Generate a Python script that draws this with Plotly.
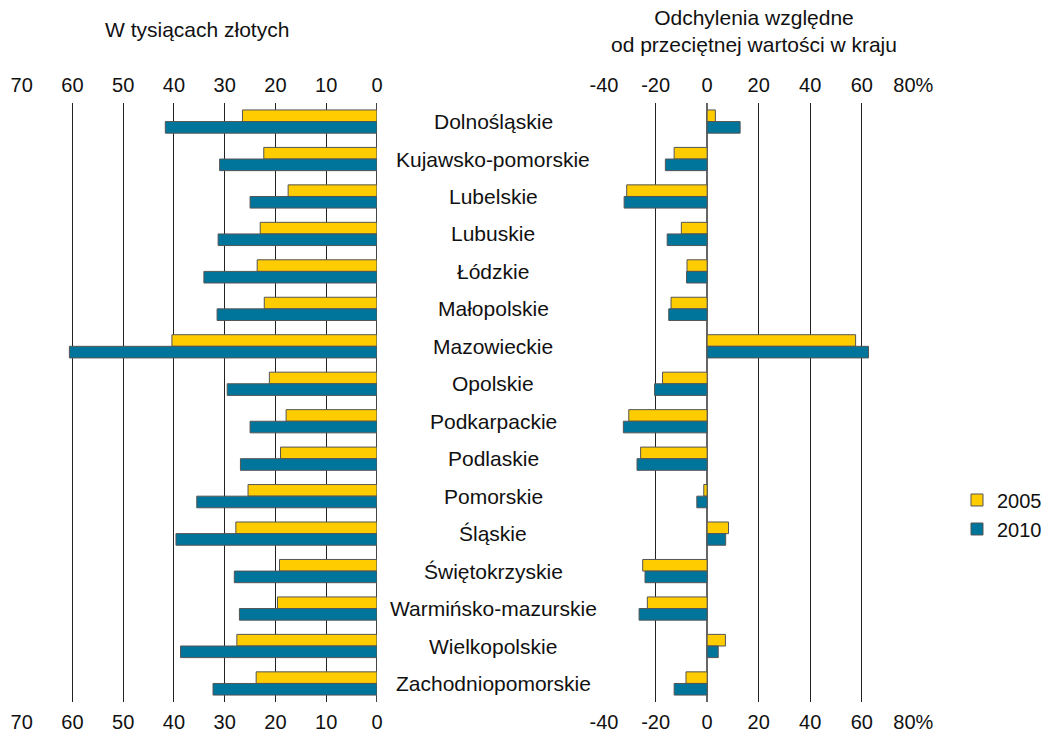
import plotly.graph_objects as go

# ── Data ──
REGIONS = [
    "Dolnośląskie", "Kujawsko-pomorskie", "Lubelskie", "Lubuskie", "Łódzkie",
    "Małopolskie", "Mazowieckie", "Opolskie", "Podkarpackie", "Podlaskie",
    "Pomorskie", "Śląskie", "Świętokrzyskie", "Warmińsko-mazurskie",
    "Wielkopolskie", "Zachodniopomorskie",
]
# W tysiącach złotych
THOUS_2005 = [26.5, 22.3, 17.5, 23.0, 23.6, 22.2, 40.4, 21.2,
              17.9, 19.0, 25.4, 27.8, 19.2, 19.6, 27.6, 23.8]
THOUS_2010 = [41.7, 31.0, 25.0, 31.3, 34.1, 31.5, 60.6, 29.5,
              25.0, 26.9, 35.5, 39.6, 28.1, 27.1, 38.7, 32.3]
# Odchylenia względne od przeciętnej wartości w kraju (%)
DEV_2005 = [3.2, -12.8, -31.2, -10.0, -7.8, -14.0, 57.6, -17.3,
            -30.4, -25.8, -1.3, 8.3, -25.0, -23.2, 7.1, -8.2]
DEV_2010 = [12.8, -16.2, -32.2, -15.5, -8.0, -14.9, 62.6, -20.4,
            -32.5, -27.2, -4.0, 7.2, -24.1, -26.4, 4.3, -12.8]

LEFT_TICKS = [70, 60, 50, 40, 30, 20, 10, 0]
RIGHT_TICKS = [-40, -20, 0, 20, 40, 60, 80]
RIGHT_TICKTEXT = ["-40", "-20", "0", "20", "40", "60", "80%"]

YELLOW = "#FFCC00"
TEAL = "#00759C"
EDGE = "#555555"
GRID = "#222222"
FONT = "Arial, 'Liberation Sans', sans-serif"
FS = 20

# page body adds ~8px margin, so the figure is a bit smaller than the window
W, H = 1044, 725

fig = go.Figure()

for name, vals_l, vals_r, color in [
    ("2005", THOUS_2005, DEV_2005, YELLOW),
    ("2010", THOUS_2010, DEV_2010, TEAL),
]:
    fig.add_trace(go.Bar(
        x=vals_l, y=REGIONS, orientation="h", name=name,
        marker=dict(color=color, line=dict(color=EDGE, width=1)),
        xaxis="x", yaxis="y", showlegend=False,
    ))
    fig.add_trace(go.Bar(
        x=vals_r, y=REGIONS, orientation="h", name=name,
        marker=dict(color=color, line=dict(color=EDGE, width=1)),
        xaxis="x2", yaxis="y2", showlegend=True,
    ))

# helpers so the top tick axes get drawn
fig.add_trace(go.Scatter(x=THOUS_2005, y=REGIONS, mode="markers",
                         marker=dict(opacity=0), xaxis="x3", yaxis="y",
                         showlegend=False, hoverinfo="skip"))
fig.add_trace(go.Scatter(x=DEV_2005, y=REGIONS, mode="markers",
                         marker=dict(opacity=0), xaxis="x4", yaxis="y2",
                         showlegend=False, hoverinfo="skip"))

LEFT_DOM = [0.0131, 0.3534]
RIGHT_DOM = [0.5709, 0.8672]
Y_DOM = [0.0425, 0.8692]
Y_RANGE = [len(REGIONS) - 0.5, -0.5]

xcommon = dict(
    showgrid=True, gridcolor=GRID, gridwidth=1,
    ticks="", showline=False, automargin=False,
    tickfont=dict(size=FS, color="#111111", family=FONT),
    ticklabelstandoff=6,
)
ycommon = dict(
    domain=Y_DOM, range=Y_RANGE, autorange=False,
    categoryorder="array", categoryarray=REGIONS, automargin=False,
    showticklabels=False, showgrid=False, zeroline=False,
)

fig.update_layout(
    width=W, height=H,
    margin=dict(l=0, r=0, t=0, b=0, pad=0, autoexpand=False),
    plot_bgcolor="white", paper_bgcolor="white",
    font=dict(family=FONT, size=FS, color="#111111"),
    barmode="group", bargap=0.38, bargroupgap=0,
    xaxis=dict(domain=LEFT_DOM, anchor="y", range=[70, 0], side="bottom",
               tickvals=LEFT_TICKS, zeroline=True, zerolinecolor="#444444",
               zerolinewidth=1, **xcommon),
    xaxis3=dict(overlaying="x", anchor="y", range=[70, 0], side="top",
                tickvals=LEFT_TICKS, zeroline=False, **xcommon),
    xaxis2=dict(domain=RIGHT_DOM, anchor="y2", range=[-40, 80], side="bottom",
                tickvals=RIGHT_TICKS, ticktext=RIGHT_TICKTEXT,
                zeroline=True, zerolinecolor="#666666", zerolinewidth=1.5,
                **xcommon),
    xaxis4=dict(overlaying="x2", anchor="y2", range=[-40, 80], side="top",
                tickvals=RIGHT_TICKS, ticktext=RIGHT_TICKTEXT,
                zeroline=False, **xcommon),
    yaxis=dict(anchor="x", **ycommon),
    yaxis2=dict(anchor="x2", **ycommon),
    legend=dict(
        x=0.909, y=0.3014, xanchor="left", yanchor="middle",
        font=dict(size=FS, family=FONT, color="#111111"),
        bgcolor="rgba(0,0,0,0)", tracegroupgap=4,
    ),
)

# region labels between the panels
for region in REGIONS:
    fig.add_annotation(
        x=0.4646, xref="paper", y=region, yref="y",
        text=region, showarrow=False, xanchor="center", yanchor="middle",
        font=dict(size=21, family=FONT, color="#111111"),
    )

fig.add_annotation(
    x=0.181, y=0.971, xref="paper", yref="paper",
    text="W tysiącach złotych", showarrow=False,
    xanchor="center", yanchor="middle",
    font=dict(size=21, family=FONT, color="#111111"),
)
fig.add_annotation(
    x=0.7146, y=0.9685, xref="paper", yref="paper",
    text="Odchylenia względne<br>od przeciętnej wartości w kraju",
    showarrow=False, xanchor="center", yanchor="middle",
    font=dict(size=21, family=FONT, color="#111111"),
)

fig.write_html("out.html")
